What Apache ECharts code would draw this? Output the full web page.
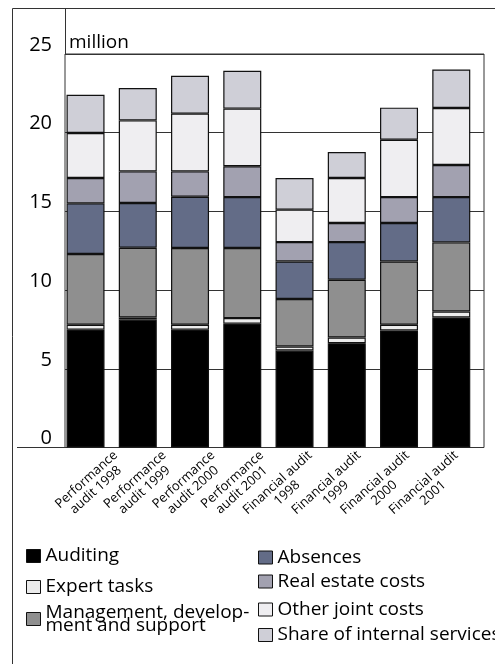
<!DOCTYPE html>
<html>
<head>
<meta charset="utf-8">
<script src="https://cdn.jsdelivr.net/npm/echarts@6/dist/echarts.min.js"></script>
<style>
  html, body { margin: 0; padding: 0; background: #ffffff; }
  #chart { width: 495px; height: 664px; }
</style>
</head>
<body>
<div id="chart"></div>
<script>
// Categories (two-line axis labels)
const categories = [
  'Performance\naudit 1998', 'Performance\naudit 1999', 'Performance\naudit 2000', 'Performance\naudit 2001',
  'Financial audit\n1998', 'Financial audit\n1999', 'Financial audit\n2000', 'Financial audit\n2001'
];

// Cost components, million, stacked bottom to top
const auditing      = [7.48, 8.13, 7.48, 7.86, 6.16, 6.63, 7.44, 8.26];
const expertTasks   = [0.32, 0.13, 0.32, 0.36, 0.26, 0.36, 0.36, 0.38];
const management    = [4.49, 4.43, 4.87, 4.45, 3.01, 3.67, 4.02, 4.39];
const absences      = [3.22, 2.84, 3.26, 3.24, 2.39, 2.39, 2.44, 2.88];
const realEstate    = [1.61, 2.01, 1.61, 1.96, 1.23, 1.21, 1.65, 2.04];
const otherJoint    = [2.86, 3.24, 3.67, 3.66, 2.06, 2.86, 3.64, 3.62];
const internalShare = [2.43, 2.06, 2.41, 2.41, 2.01, 1.65, 2.04, 2.45];

// Value axis ticks
const yTicks = [0, 5, 10, 15, 20, 25];

const FONT = '"Open Sans", "Noto Sans", sans-serif';
const LINE = '#333333';
const EDGE = '#111111';

const seriesDefs = [
  { name: 'Auditing', data: auditing, color: '#000000' },
  { name: 'Expert tasks', data: expertTasks, color: '#ebebeb' },
  { name: 'Management, development and support', data: management, color: '#8f8f8f' },
  { name: 'Absences', data: absences, color: '#636c87' },
  { name: 'Real estate costs', data: realEstate, color: '#a2a1b0' },
  { name: 'Other joint costs', data: otherJoint, color: '#efeef1' },
  { name: 'Share of internal services', data: internalShare, color: '#cfcfd7' }
];

// Legend placement: two columns
const legendPlaces = [
  { left: 26, top: 546.5 },
  { left: 26, top: 577.5 },
  { left: 26, top: 597, wrap: true },
  { left: 258, top: 548 },
  { left: 258, top: 572 },
  { left: 258, top: 600 },
  { left: 258, top: 625.5 }
];

const yMin = yTicks[0];
const yMax = yTicks[yTicks.length - 1];
const yStep = yTicks[1] - yTicks[0];

const legends = seriesDefs.map((s, i) => {
  const p = legendPlaces[i];
  const lg = {
    data: [s.name],
    left: p.left,
    top: p.top,
    padding: 0,
    orient: 'horizontal',
    icon: 'rect',
    itemWidth: 14,
    itemHeight: 13,
    selectedMode: false,
    itemStyle: { borderColor: EDGE, borderWidth: 1 },
    textStyle: { fontFamily: FONT, fontSize: 19, color: '#000' }
  };
  if (p.wrap) {
    // second line of this entry hangs below the swatch
    lg.formatter = () => 'Management, develop-\nment and support';
    lg.textStyle.lineHeight = 13;
    lg.textStyle.padding = [18, 0, 0, 0];
  }
  return lg;
});

const chart = echarts.init(document.getElementById('chart'), null, { renderer: 'canvas' });

chart.setOption({
  animation: false,
  backgroundColor: '#ffffff',
  legend: legends,
  grid: [
    // frame with value gridlines
    { left: 65, top: 54, width: 419, height: 393.5, show: true, borderColor: LINE, borderWidth: 1, containLabel: false },
    // bars
    { left: 59.4, top: 54, width: 418, height: 393.5, containLabel: false },
    // category labels
    { left: 96, top: 54, width: 389.2, height: 393.5, containLabel: false }
  ],
  xAxis: [
    { gridIndex: 0, type: 'category', data: categories, show: false },
    { gridIndex: 1, type: 'category', data: categories, show: false },
    {
      gridIndex: 2, type: 'category', data: categories,
      axisLine: { show: false }, axisTick: { show: false },
      axisLabel: {
        interval: 0, rotate: 42, margin: 11,
        formatter: (v) => v.split('\n').map(t => '{c|' + t + '}').join('\n'),
        rich: { c: { align: 'center', fontFamily: FONT, fontSize: 13, lineHeight: 14, color: '#000' } }
      }
    }
  ],
  yAxis: [
    {
      gridIndex: 0, type: 'value', min: yMin, max: yMax, interval: yStep,
      name: 'million', nameLocation: 'end', nameGap: 11,
      nameTextStyle: { fontFamily: FONT, fontSize: 19, color: '#000', align: 'left', verticalAlign: 'middle', padding: [0, 0, 0, 4] },
      axisLine: { show: false }, axisTick: { show: false },
      axisLabel: { fontFamily: FONT, fontSize: 20, color: '#000', margin: 13, verticalAlign: 'bottom', lineHeight: 18 },
      splitLine: { show: true, lineStyle: { color: LINE, width: 1 } }
    },
    { gridIndex: 1, type: 'value', min: yMin, max: yMax, interval: yStep, show: false, splitLine: { show: false } },
    { gridIndex: 2, type: 'value', min: yMin, max: yMax, interval: yStep, show: false, splitLine: { show: false } }
  ],
  series: seriesDefs.map(s => ({
    name: s.name,
    type: 'bar',
    stack: 'cost',
    xAxisIndex: 1,
    yAxisIndex: 1,
    barWidth: 38,
    data: s.data,
    itemStyle: { color: s.color, borderColor: EDGE, borderWidth: 1.2 },
    emphasis: { disabled: true }
  })),
  graphic: [
    // outer frame
    { type: 'line', shape: { x1: 12.5, y1: 8.5, x2: 12.5, y2: 664 }, style: { stroke: LINE, lineWidth: 1 }, silent: true },
    { type: 'line', shape: { x1: 12.5, y1: 8.5, x2: 495, y2: 8.5 }, style: { stroke: LINE, lineWidth: 1 }, silent: true },
    // value axis line continuing to the frame top
    { type: 'line', shape: { x1: 65.5, y1: 8.5, x2: 65.5, y2: 54.5 }, style: { stroke: LINE, lineWidth: 1 }, silent: true },
    // base line continuing left
    { type: 'line', shape: { x1: 17, y1: 447.5, x2: 65.5, y2: 447.5 }, style: { stroke: LINE, lineWidth: 1 }, silent: true }
  ]
});
</script>
</body>
</html>
